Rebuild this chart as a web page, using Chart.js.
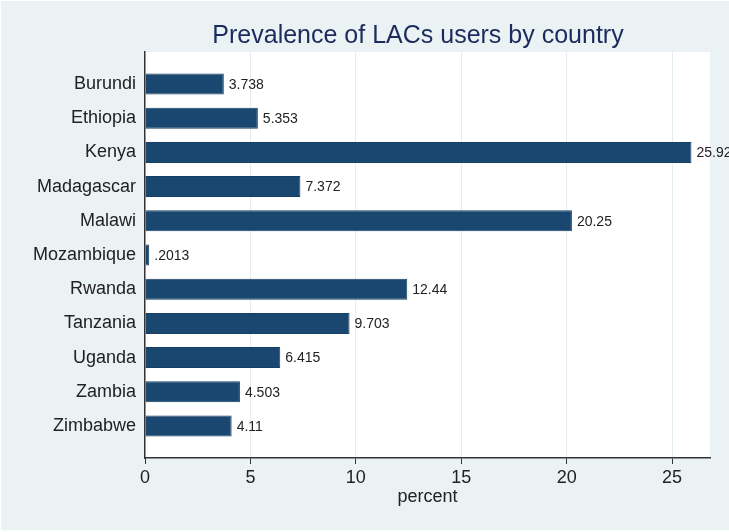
<!DOCTYPE html>
<html><head><meta charset="utf-8">
<script src="https://cdn.jsdelivr.net/npm/chart.js@4.4.1/dist/chart.umd.min.js"></script>
<style>html,body{margin:0;padding:0;background:#fff;}#wrap{width:729px;height:532px;}</style>
</head><body><div id="wrap"><canvas id="c" width="729" height="532"></canvas></div>
<script>
const categories = ['Burundi','Ethiopia','Kenya','Madagascar','Malawi','Mozambique','Rwanda','Tanzania','Uganda','Zambia','Zimbabwe'];
const percentValues = [3.738, 5.353, 25.92, 7.372, 20.25, 0.2013, 12.44, 9.703, 6.415, 4.503, 4.11];
const xTickValues = [0, 5, 10, 15, 20, 25];
const titleText = 'Prevalence of LACs users by country';
const xAxisTitle = 'percent';

const FONT = "'Liberation Sans', Arial, sans-serif";
const fmt = v => String(Number(v.toPrecision(4))).replace(/^0\./, '.');

const bgPlugin = {
  id: 'bg',
  beforeDraw(chart) {
    const ctx = chart.ctx, a = chart.chartArea;
    ctx.save();
    ctx.fillStyle = '#ffffff';
    ctx.fillRect(0, 0, chart.width, chart.height);
    ctx.fillStyle = '#eaf2f3';
    ctx.fillRect(1, 1, chart.width - 1, chart.height - 3);
    ctx.fillStyle = '#ffffff';
    ctx.fillRect(a.left, a.top, a.right - a.left, a.bottom - a.top);
    ctx.restore();
  },
  afterDraw(chart) {
    const ctx = chart.ctx;
    ctx.save();
    ctx.font = '25px ' + FONT;
    ctx.fillStyle = '#1c2b5e';
    ctx.textAlign = 'center';
    ctx.textBaseline = 'middle';
    ctx.fillText(titleText, 418, 36);
    ctx.restore();
  }
};

const valueLabels = {
  id: 'valueLabels',
  afterDatasetsDraw(chart) {
    const ctx = chart.ctx;
    const meta = chart.getDatasetMeta(0);
    ctx.save();
    ctx.font = '14px ' + FONT;
    ctx.fillStyle = '#222222';
    ctx.textAlign = 'left';
    ctx.textBaseline = 'middle';
    meta.data.forEach((bar, i) => {
      ctx.fillText(fmt(percentValues[i]), bar.x + 5, bar.y + 1);
    });
    ctx.restore();
  }
};

new Chart(document.getElementById('c'), {
  type: 'bar',
  data: {
    datasets: [{
      data: percentValues.map((v, i) => ({ x: v, y: i })),
      backgroundColor: '#1a476f',
      borderColor: '#173f63',
      borderWidth: 1,
      categoryPercentage: 1,
      barPercentage: 0.615
    }]
  },
  options: {
    indexAxis: 'y',
    responsive: false,
    devicePixelRatio: 1,
    animation: false,
    layout: { padding: { top: 52, right: 19, left: 0, bottom: 24 } },
    plugins: { legend: { display: false }, tooltip: { enabled: false }, title: { display: false } },
    scales: {
      y: {
        type: 'linear',
        position: 'left',
        reverse: true,
        offset: false,
        min: -0.936,
        max: categories.length - 1 + 0.936,
        afterBuildTicks: s => { s.ticks = categories.map((_, i) => ({ value: i })); },
        afterFit: s => { s.width = 145; },
        grid: { display: false, drawTicks: false, offset: false },
        border: { display: true, color: '#333333', width: 1.5 },
        ticks: {
          callback: v => categories[v],
          font: { family: FONT, size: 18 },
          color: '#222222',
          padding: 9
        }
      },
      x: {
        type: 'linear',
        position: 'bottom',
        min: 0,
        max: 26.8,
        afterBuildTicks: s => { s.ticks = xTickValues.map(v => ({ value: v })); },
        afterFit: s => { s.height = 50; },
        grid: {
          color: c => (c.tick && c.tick.value === 0) ? 'rgba(0,0,0,0)' : '#e3edf0',
          lineWidth: 1,
          tickColor: '#333333',
          tickLength: 6,
          drawTicks: true
        },
        border: { display: true, color: '#333333', width: 1.5 },
        ticks: {
          font: { family: FONT, size: 18 },
          color: '#222222',
          padding: 3,
          maxRotation: 0,
          callback: v => String(v)
        },
        title: {
          display: true,
          text: xAxisTitle,
          font: { family: FONT, size: 18 },
          color: '#222222',
          padding: { top: 0, bottom: 0 }
        }
      }
    }
  },
  plugins: [bgPlugin, valueLabels]
});
</script>
</body></html>
